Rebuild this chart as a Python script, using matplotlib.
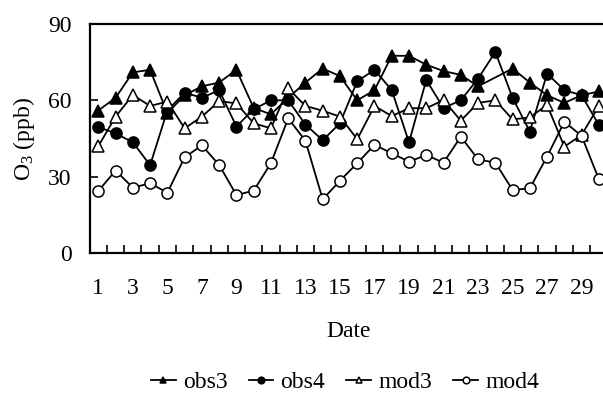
import numpy as np
import matplotlib
matplotlib.use("Agg")
import matplotlib.pyplot as plt

days = list(range(1, 31))
obs3 = [56, 61, 71, 72, 55, 62, 65.5, 67, 72, 57, 54.5, 61, 67, 72.5, 69.5, 60, 64, 77.5, 77.5, 74,
        71.5, 70, 65.5, np.nan, 72.5, 67, 62, 59, 62, 63.5]
obs4 = [49.5, 47, 43.5, 34.5, 56, 63, 61, 64, 49.7, 56.5, 60, 60, 50.5, 44.3, 51, 67.5, 72, 64, 43.5, 68,
        57, 60, 68.5, 79, 61, 47.7, 70.5, 64, 62, 50.3]
mod3 = [42, 53.6, 62.1, 57.8, 59.5, 49, 53.6, 59.7, 58.8, 51, 49, 64.7, 57.8, 55.9, 53.6, 44.7, 57.8, 53.8, 56.9, 56.9,
        60.1, 52, 59, 60, 52.5, 53.3, 58.2, 41.8, 46.4, 57.8]
mod4 = [24.4, 32.4, 25.7, 27.4, 23.7, 37.6, 42.3, 34.6, 22.8, 24.5, 35.3, 52.9, 44.1, 21.1, 28.4, 35.3, 42.5, 39.2, 35.9, 38.5,
        35.5, 45.7, 36.8, 35.5, 24.8, 25.4, 37.9, 51.6, 46, 29]
series_names = ["obs3", "obs4", "mod3", "mod4"]
xtick_labels = [str(d) for d in range(1, 30, 2)]
yticks = [0, 30, 60, 90]

plt.rcParams['font.family'] = ['Liberation Serif', 'DejaVu Serif']
plt.rcParams['mathtext.fontset'] = 'custom'
plt.rcParams['mathtext.rm'] = 'Liberation Serif'

fig = plt.figure(figsize=(6.03, 3.97), dpi=100)
ax = fig.add_axes([89.7/603, (397-253)/397, 517.8/603, 229/397])

styles = {
    "obs3": dict(marker='^', mfc='black', mec='black'),
    "obs4": dict(marker='o', mfc='black', mec='black'),
    "mod3": dict(marker='^', mfc='white', mec='black'),
    "mod4": dict(marker='o', mfc='white', mec='black'),
}
data = {"obs3": obs3, "obs4": obs4, "mod3": mod3, "mod4": mod4}
handles = []
for name in series_names:
    y = np.array(data[name], dtype=float)
    x = np.array(days)
    m = ~np.isnan(y)
    h, = ax.plot(x[m], y[m], color='black', lw=1.3, ms=8, mew=1.1, label=name, **styles[name])
    handles.append(h)

ax.set_xlim(0.5, 30.5)
ax.set_ylim(0, 90)
ax.set_yticks(yticks)
ax.set_xticks(range(1, 30, 2))
ax.set_xticklabels(xtick_labels)
ax.set_xticks(np.arange(1.5, 30.5, 1), minor=True)
ax.tick_params(axis='x', which='major', length=0, pad=18, labelsize=17)
ax.tick_params(axis='x', which='minor', direction='in', length=6, width=1.2)
ax.tick_params(axis='y', direction='in', length=6, width=1.2, pad=13, labelsize=17)
for s in ax.spines.values():
    s.set_linewidth(1.6)

ax.set_xlabel("Date", fontsize=17, labelpad=16)
ax.set_ylabel(r"$\mathregular{O_3}$ (ppb)", fontsize=17, labelpad=8)

fig.legend(handles=handles, loc='center', bbox_to_anchor=(345/603, 1-382/397), ncol=4,
           frameon=False, fontsize=17, handlelength=1.05, handletextpad=0.3, columnspacing=0.9,
           markerscale=0.6)

fig.savefig("out.png", dpi=100)
